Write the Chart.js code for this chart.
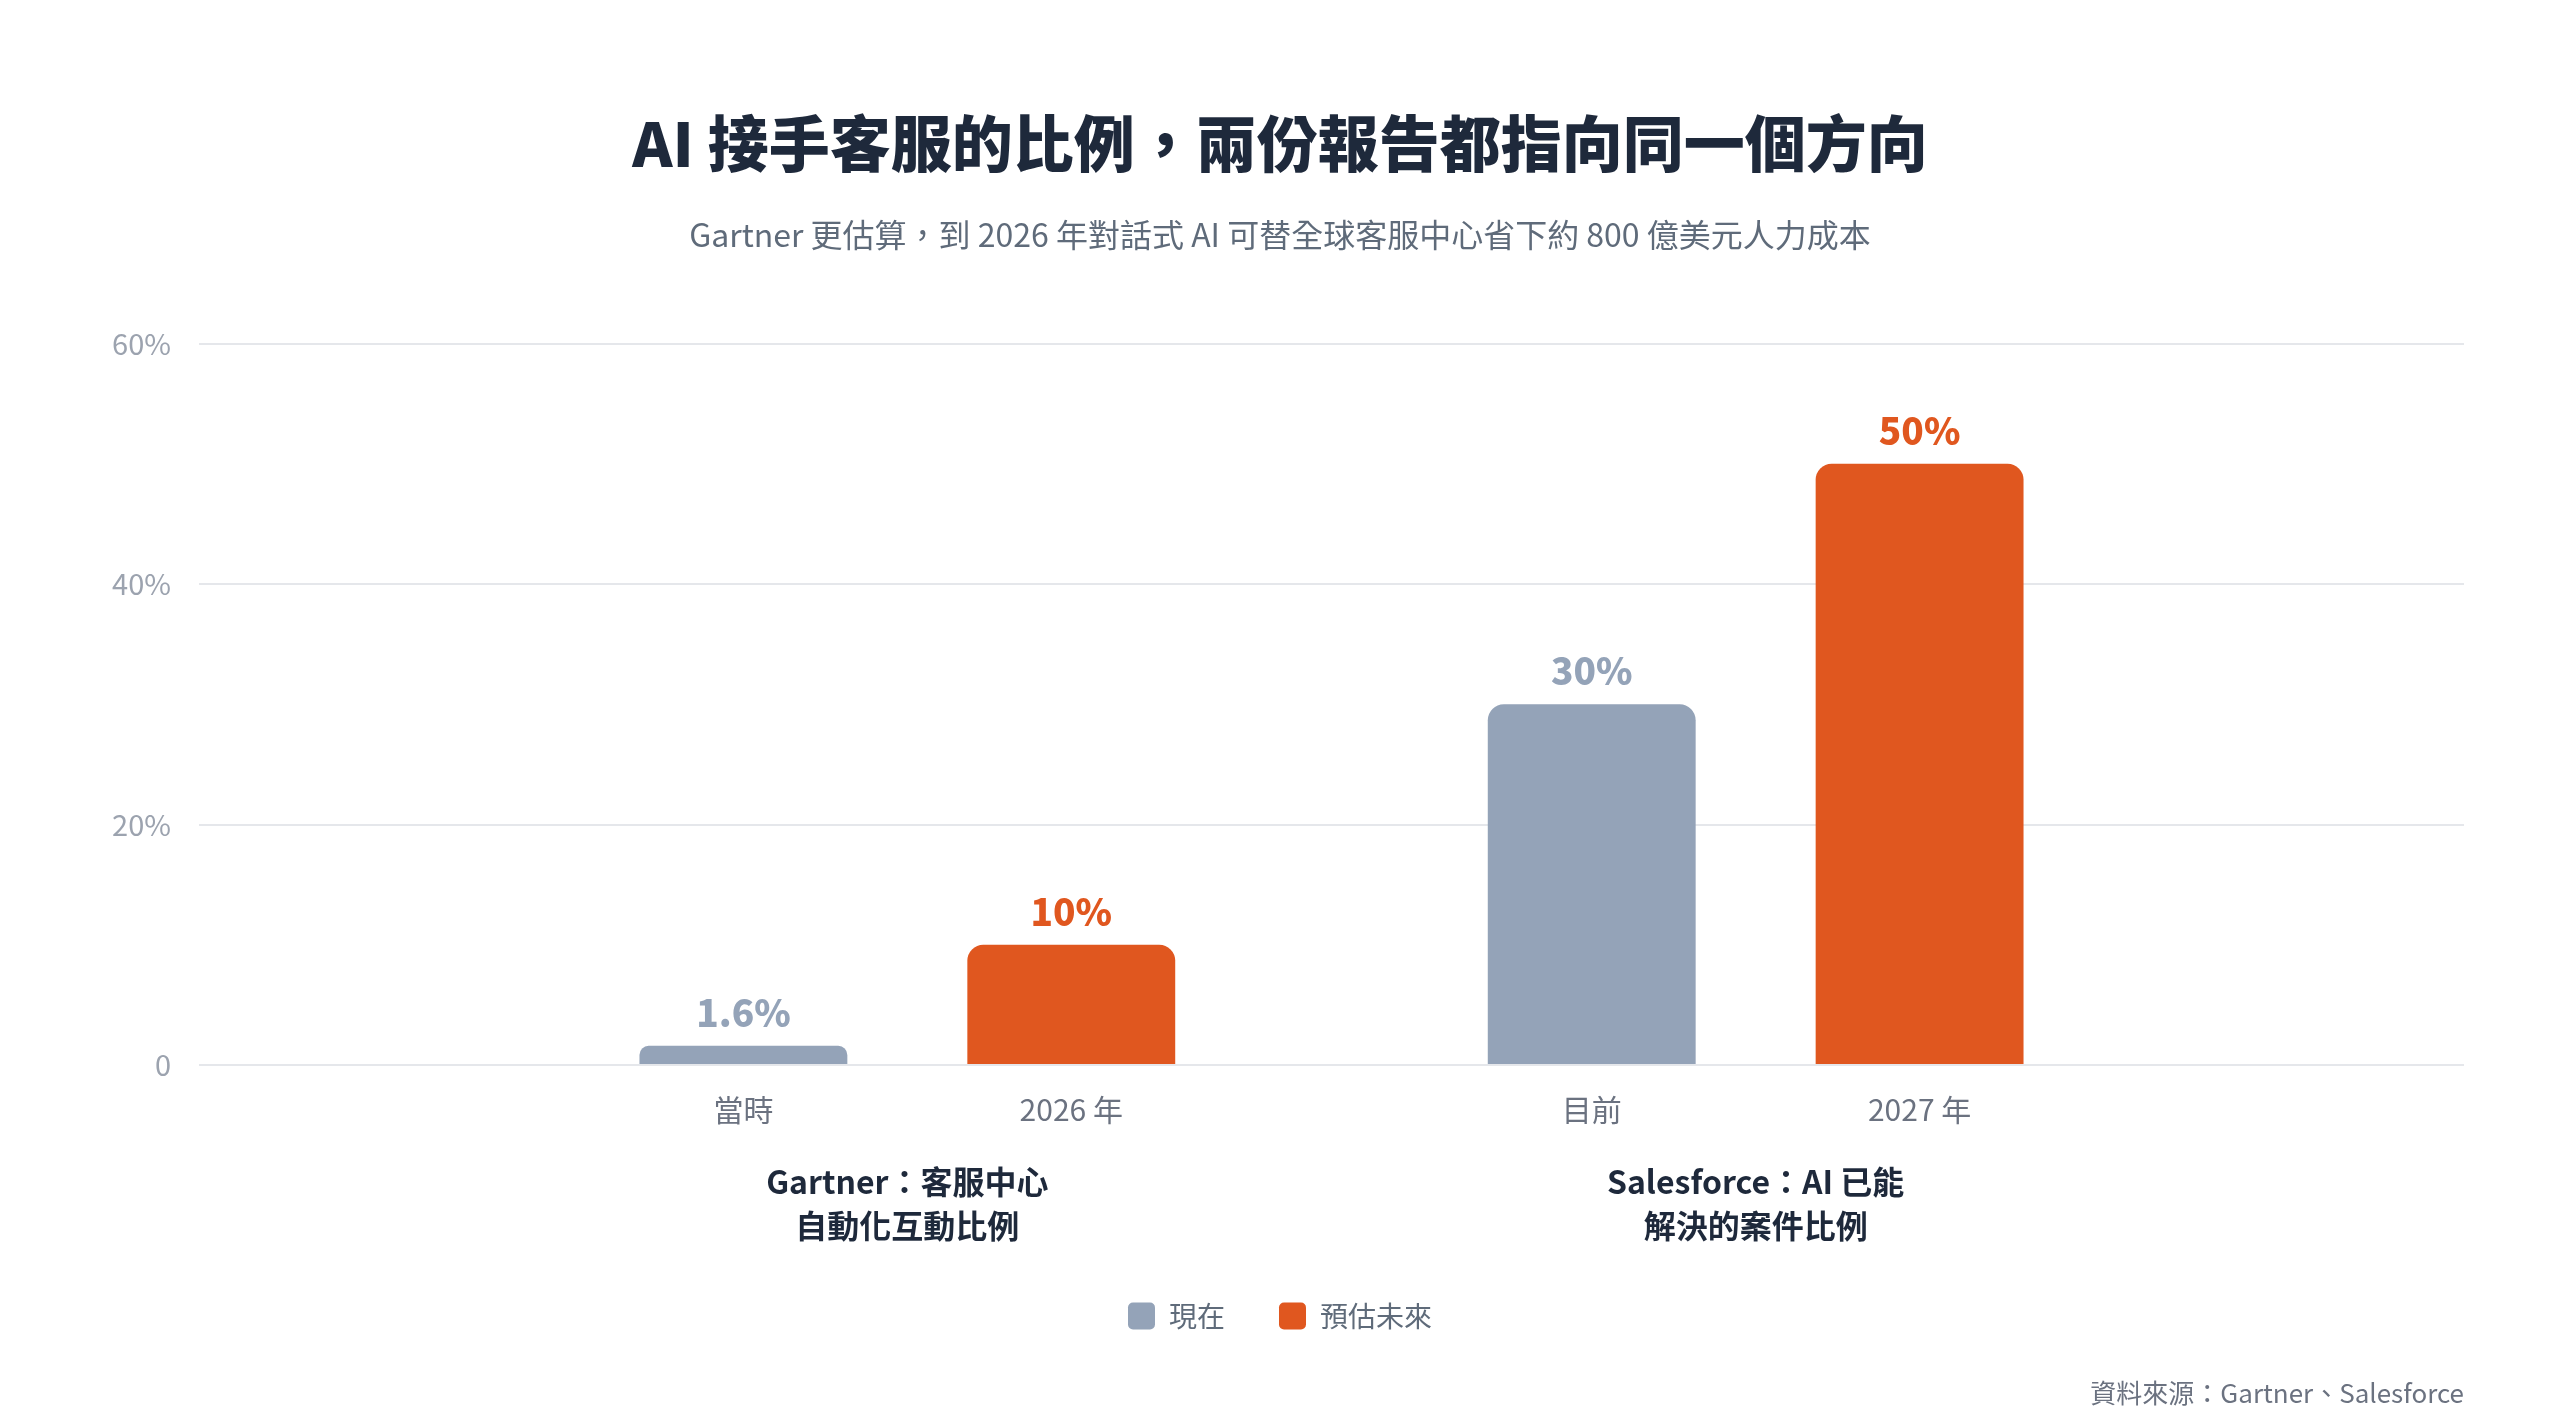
<!DOCTYPE html>
<html lang="zh-Hant">
<head>
  <meta charset="UTF-8">
  <title>AI 接手客服的比例</title>
  <script src="https://cdn.jsdelivr.net/npm/chart.js"></script>
  <style>
    html, body { margin: 0; padding: 0; background: #fff; }
    .chart-wrap { width: 2560px; height: 1428px; position: relative; }
  </style>
</head>
<body>
  <div class="chart-wrap"><canvas id="aiChart"></canvas></div>

  <script>
    // Data
    const groupLabels = [
      ['Gartner：客服中心', '自動化互動比例'],
      ['Salesforce：AI 已能', '解決的案件比例']
    ];
    const nowLabels = ['當時', '目前'];
    const futureLabels = ['2026 年', '2027 年'];
    const nowValues = [1.6, 30];
    const futureValues = [10, 50];
    const yTickLabels = ['0', '20%', '40%', '60%'];

    const family = '"Noto Sans CJK TC", "Noto Sans", sans-serif';
    const GRAY = '#94a3b8';
    const ORANGE = '#e0571f';

    Chart.defaults.font.family = family;

    // value labels above bars, bar names under the axis, source note
    const barText = {
      id: 'barText',
      afterDatasetsDraw(chart) {
        const ctx = chart.ctx;
        const bottom = chart.chartArea.bottom;
        chart.data.datasets.forEach((ds, di) => {
          const meta = chart.getDatasetMeta(di);
          meta.data.forEach((bar, i) => {
            ctx.save();
            ctx.textAlign = 'center';
            ctx.textBaseline = 'middle';
            ctx.fillStyle = ds.backgroundColor;
            ctx.font = '900 37px ' + family;
            ctx.fillText(ds.values[i] + '%', bar.x, bar.y - 33);
            ctx.fillStyle = '#6b7280';
            ctx.font = '30px ' + family;
            ctx.fillText(ds.barNames[i], bar.x, bottom + 45);
            ctx.restore();
          });
        });
      },
      afterDraw(chart) {
        const ctx = chart.ctx;
        ctx.save();
        ctx.textAlign = 'right';
        ctx.textBaseline = 'middle';
        ctx.fillStyle = '#6b7280';
        ctx.font = '26px ' + family;
        ctx.fillText('資料來源：Gartner、Salesforce', chart.chartArea.right, chart.height - 35);
        ctx.restore();
      }
    };

    new Chart(document.getElementById('aiChart'), {
      type: 'bar',
      data: {
        datasets: [
          {
            label: '現在',
            data: nowValues.map((v, i) => ({ x: i, y: v })),
            values: nowValues,
            barNames: nowLabels,
            backgroundColor: GRAY,
            borderWidth: 0,
            borderRadius: 16
          },
          {
            label: '預估未來',
            data: futureValues.map((v, i) => ({ x: i, y: v })),
            values: futureValues,
            barNames: futureLabels,
            backgroundColor: ORANGE,
            borderWidth: 0,
            borderRadius: 16
          }
        ]
      },
      options: {
        responsive: true,
        maintainAspectRatio: false,
        animation: false,
        categoryPercentage: 0.773,
        barPercentage: 0.634,
        layout: { padding: { top: 0, left: 96, right: 96, bottom: 88 } },
        plugins: {
          title: {
            display: true,
            text: 'AI 接手客服的比例，兩份報告都指向同一個方向',
            color: '#1e293b',
            font: { size: 61, weight: '900', lineHeight: 1.2 },
            padding: { top: 107, bottom: 0 }
          },
          subtitle: {
            display: true,
            text: 'Gartner 更估算，到 2026 年對話式 AI 可替全球客服中心省下約 800 億美元人力成本',
            color: '#5f6b7a',
            font: { size: 32, lineHeight: 1.2 },
            padding: { top: 35, bottom: 90 }
          },
          legend: {
            position: 'bottom',
            labels: {
              boxWidth: 27,
              boxHeight: 27,
              useBorderRadius: true,
              borderRadius: 5,
              padding: 54,
              color: '#5f6b7a',
              font: { size: 28 }
            }
          },
          tooltip: { enabled: false }
        },
        scales: {
          x: {
            type: 'linear',
            min: -0.835,
            max: 1.835,
            offset: false,
            grid: { display: false, drawTicks: false },
            border: { display: false },
            afterBuildTicks: (scale) => {
              scale.ticks = groupLabels.map((_, i) => ({ value: i }));
            },
            afterFit: (scale) => { scale.height = 183; },
            ticks: {
              padding: 95,
              color: '#1e293b',
              font: { size: 32, weight: 'bold', lineHeight: 1.375 },
              callback: (value, index) => groupLabels[index]
            }
          },
          y: {
            min: 0,
            max: 60,
            afterFit: (scale) => { scale.width = 103; },
            grid: { color: '#e5e7eb', lineWidth: 2, drawTicks: false },
            border: { display: false },
            ticks: {
              stepSize: 20,
              padding: 28,
              color: '#9ca3af',
              font: { size: 29 },
              callback: (value, index) => yTickLabels[index]
            }
          }
        }
      },
      plugins: [barText]
    });
  </script>
</body>
</html>
